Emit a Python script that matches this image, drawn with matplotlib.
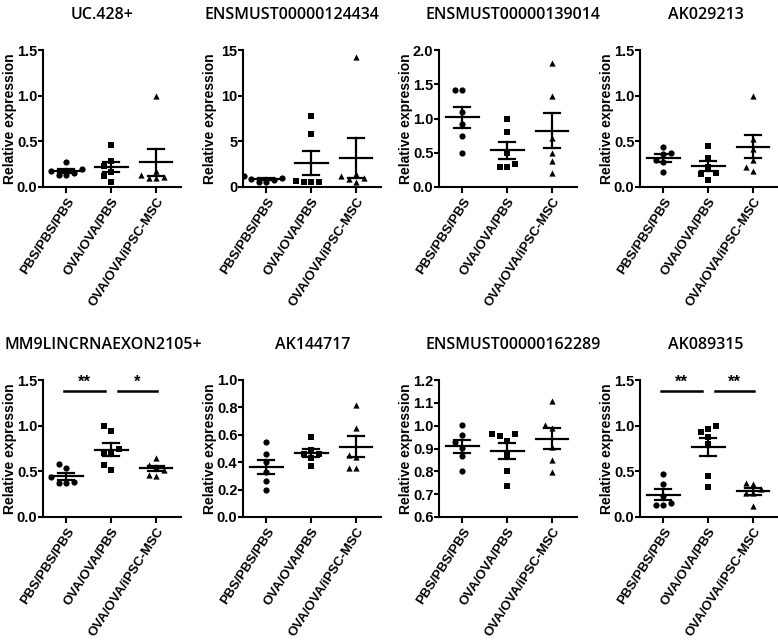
import numpy as np
import matplotlib
matplotlib.use("Agg")
import matplotlib.pyplot as plt
from matplotlib.ticker import FormatStrFormatter

plt.rcParams['font.family'] = ['Liberation Sans', 'DejaVu Sans']

# ------------------ data ------------------
groups = ["PBS/PBS/PBS", "OVA/OVA/PBS", "OVA/OVA/iPSC-MSC"]
titles = ["UC.428+", "ENSMUST00000124434", "ENSMUST00000139014", "AK029213",
          "MM9LINCRNAEXON2105+", "AK144717", "ENSMUST00000162289", "AK089315"]

uc428_pbs = [0.27, 0.20, 0.18, 0.15, 0.13, 0.13]
uc428_ova = [0.46, 0.29, 0.23, 0.16, 0.12, 0.05]
uc428_msc = [1.00, 0.18, 0.13, 0.11, 0.10, 0.10]

ens124434_pbs = [1.2, 1.0, 0.9, 0.8, 0.6, 0.55]
ens124434_ova = [7.8, 5.75, 0.6, 0.5, 0.6, 0.7]
ens124434_msc = [14.2, 1.4, 1.2, 1.0, 0.9, 0.6]

ens139014_pbs = [1.42, 1.42, 1.10, 0.92, 0.75, 0.50]
ens139014_ova = [1.00, 0.80, 0.50, 0.34, 0.29, 0.29]
ens139014_msc = [1.81, 1.33, 0.72, 0.50, 0.38, 0.20]

ak029213_pbs = [0.44, 0.37, 0.36, 0.30, 0.27, 0.16]
ak029213_ova = [0.45, 0.32, 0.22, 0.15, 0.14, 0.08]
ak029213_msc = [1.00, 0.53, 0.42, 0.30, 0.22, 0.18]

mm9_pbs = [0.585, 0.54, 0.44, 0.38, 0.37, 0.37]
mm9_ova = [1.00, 0.94, 0.75, 0.70, 0.69, 0.57, 0.52]
mm9_msc = [0.65, 0.57, 0.55, 0.51, 0.46, 0.45]

ak144717_pbs = [0.55, 0.46, 0.40, 0.33, 0.26, 0.20]
ak144717_ova = [0.585, 0.49, 0.46, 0.46, 0.43, 0.37]
ak144717_msc = [0.82, 0.65, 0.45, 0.44, 0.36, 0.36]

ens162289_pbs = [1.003, 0.958, 0.93, 0.90, 0.867, 0.80]
ens162289_ova = [0.965, 0.962, 0.955, 0.935, 0.87, 0.80, 0.735]
ens162289_msc = [1.108, 1.003, 0.99, 0.907, 0.85, 0.797]

ak089315_pbs = [0.47, 0.36, 0.23, 0.15, 0.13, 0.13]
ak089315_ova = [1.00, 0.96, 0.93, 0.88, 0.80, 0.45, 0.33]
ak089315_msc = [0.37, 0.36, 0.31, 0.26, 0.26, 0.12]

panel_data = [
    (uc428_pbs, uc428_ova, uc428_msc),
    (ens124434_pbs, ens124434_ova, ens124434_msc),
    (ens139014_pbs, ens139014_ova, ens139014_msc),
    (ak029213_pbs, ak029213_ova, ak029213_msc),
    (mm9_pbs, mm9_ova, mm9_msc),
    (ak144717_pbs, ak144717_ova, ak144717_msc),
    (ens162289_pbs, ens162289_ova, ens162289_msc),
    (ak089315_pbs, ak089315_ova, ak089315_msc),
]

# significance: panel index -> list of (group a, group b, label)
signif = {4: [(0, 1, "**"), (1, 2, "*")],
          7: [(0, 1, "**"), (1, 2, "**")]}
signif_y = 1.38

# ------------------ layout ------------------
W, H = 778, 641
fig = plt.figure(figsize=(W / 100, H / 100), dpi=100)

lefts = [43, 243, 439, 640]
ax_w = 138
row_tops = [50, 380]
ax_h = 137
title_x = [102, 292, 513, 706, 103, 313, 513, 706]
title_y = [15, 345]

ylims = [(0, 1.5), (0, 15), (0, 2.0), (0, 1.5), (0, 1.5), (0, 1.0), (0.6, 1.2), (0, 1.5)]
yticks = [np.arange(0, 1.51, 0.5), np.arange(0, 16, 5), np.arange(0, 2.01, 0.5),
          np.arange(0, 1.51, 0.5), np.arange(0, 1.51, 0.5), np.arange(0, 1.01, 0.2),
          np.arange(0.6, 1.21, 0.1), np.arange(0, 1.51, 0.5)]
markers = ["o", "s", "^"]
XLIM = (-0.52, 2.55)


def swarm(vals, yr):
    # spread points sideways so markers don't overlap (in pixel units)
    vals = np.asarray(vals, float)
    order = np.argsort(vals)
    placed = []
    offs = np.zeros(len(vals))
    px_x = ax_w / (XLIM[1] - XLIM[0])
    for i in order:
        ypx = (vals[i] - yr[0]) / (yr[1] - yr[0]) * ax_h
        for cand in [0, -0.17, 0.17, -0.34, 0.34, -0.5, 0.5]:
            if all(np.hypot((cand - ox) * px_x, ypx - oy) >= 7.0 for ox, oy in placed):
                break
        offs[i] = cand
        placed.append((cand, ypx))
    return offs


for k, data in enumerate(panel_data):
    r, c = divmod(k, 4)
    left = lefts[c] / W
    bottom = 1 - (row_tops[r] + ax_h) / H
    ax = fig.add_axes([left, bottom, ax_w / W, ax_h / H])
    yr = ylims[k]

    for g, vals in enumerate(data):
        vals = np.asarray(vals, float)
        offs = swarm(vals, yr)
        ax.scatter(g + offs, vals, marker=markers[g], s=20, color="black",
                   zorder=3, linewidths=0)
        m = vals.mean()
        sem = vals.std(ddof=1) / np.sqrt(len(vals))
        ax.plot([g - 0.36, g + 0.36], [m, m], color="black", lw=1.6, zorder=4)
        ax.plot([g - 0.18, g + 0.18], [m + sem, m + sem], color="black", lw=1.6, zorder=4)
        ax.plot([g - 0.18, g + 0.18], [m - sem, m - sem], color="black", lw=1.6, zorder=4)
        ax.plot([g, g], [m - sem, m + sem], color="black", lw=1.6, zorder=4)

    for a, b, lab in signif.get(k, []):
        x0 = a - 0.05 if a == 0 else a + 0.15
        x1 = b - 0.15 if a == 0 else b + 0.02
        ax.plot([x0, x1], [signif_y, signif_y], color="black", lw=1.8, clip_on=False)
        ax.text((x0 + x1) / 2, signif_y + 0.01, lab, ha="center", va="bottom",
                fontsize=12, fontweight="bold")

    ax.set_xlim(*XLIM)
    ax.set_ylim(*yr)
    ax.set_yticks(yticks[k])
    ax.yaxis.set_major_formatter(FormatStrFormatter("%d" if k == 1 else "%.1f"))
    ax.set_xticks(range(3))
    ax.set_xticklabels(groups, rotation=57, ha="right", rotation_mode="anchor",
                       fontsize=9.5, fontweight="bold")
    for lab in ax.get_yticklabels():
        lab.set_fontweight("bold")
    ax.tick_params(axis="y", labelsize=10.5, width=1.5, length=3.5, pad=0.5)
    ax.tick_params(axis="x", width=1.5, length=4, pad=2)
    for s in ["top", "right"]:
        ax.spines[s].set_visible(False)
    for s in ["left", "bottom"]:
        ax.spines[s].set_linewidth(1.5)
    ax.set_ylabel("Relative expression", fontsize=10, fontweight="bold")
    ax.yaxis.set_label_coords(-0.19, 0.5)

    fig.text(title_x[k] / W, 1 - title_y[r] / H, titles[k], ha="center", va="center",
             fontsize=11.5, family=["Open Sans", "DejaVu Sans"], fontweight="semibold")

fig.savefig("out.png", dpi=100, facecolor="white")
